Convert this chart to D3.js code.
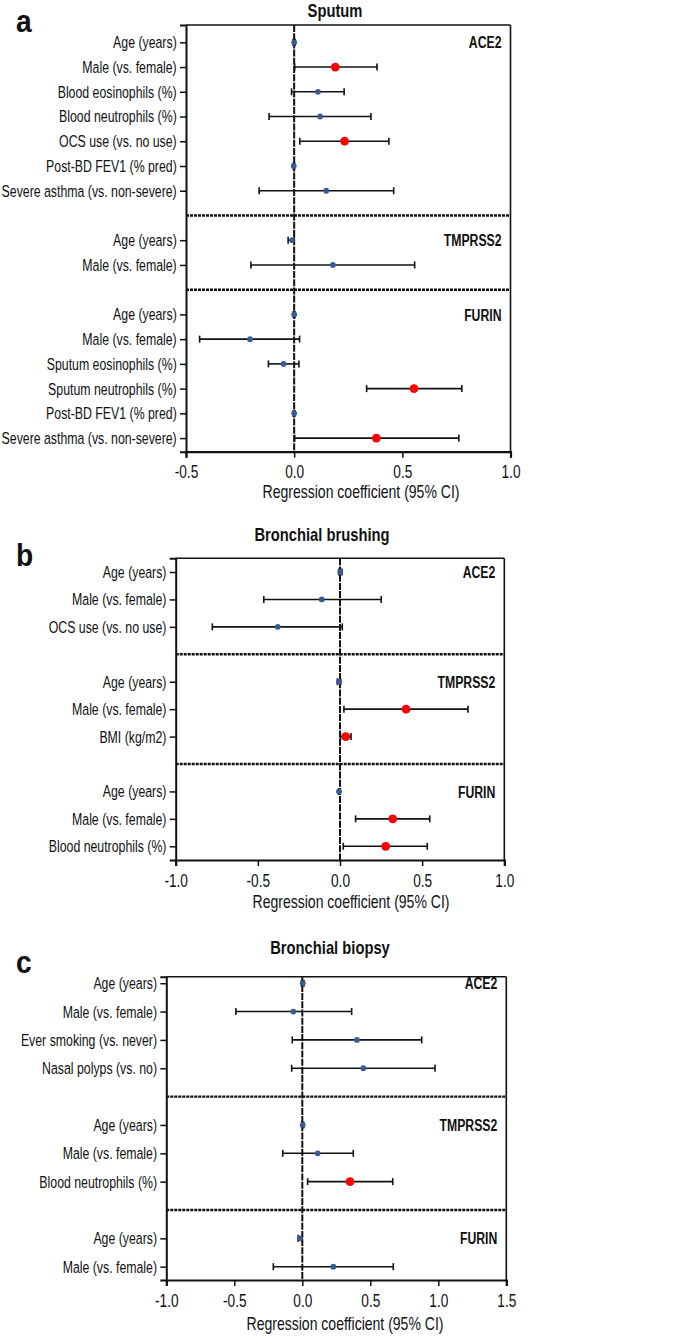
<!DOCTYPE html>
<html>
<head>
<meta charset="utf-8">
<script src="https://cdn.jsdelivr.net/npm/d3@7"></script>
<style>
body { margin: 0; background: #fff; }
text { font-family: "Liberation Sans", Arial, sans-serif; fill: #111; }
</style>
</head>
<body>
<div id="chart"></div>
<script>
// a - Sputum
const sputumGenes = ["ACE2", "TMPRSS2", "FURIN"]
const sputumVars = [
    ["Age (years)", "Male (vs. female)", "Blood eosinophils (%)", "Blood neutrophils (%)", "OCS use (vs. no use)", "Post-BD FEV1 (% pred)", "Severe asthma (vs. non-severe)"],
    ["Age (years)", "Male (vs. female)"],
    ["Age (years)", "Male (vs. female)", "Sputum eosinophils (%)", "Sputum neutrophils (%)", "Post-BD FEV1 (% pred)", "Severe asthma (vs. non-severe)"]
]
const sputumCoef = [[0.0, 0.19, 0.11, 0.12, 0.233, -0.002, 0.148], [-0.009, 0.179], [0.0, -0.204, -0.049, 0.554, 0.0, 0.38]]
const sputumLow = [[-0.005, 0.002, -0.012, -0.116, 0.026, -0.005, -0.162], [-0.028, -0.2], [-0.004, -0.437, -0.119, 0.335, -0.004, 0.002]]
const sputumHigh = [[0.005, 0.383, 0.231, 0.355, 0.438, 0.002, 0.46], [0.0, 0.557], [0.004, 0.025, 0.022, 0.775, 0.003, 0.761]]
const sputumSig = [[0, 1, 0, 0, 1, 0, 0], [0, 0], [0, 0, 0, 1, 0, 1]]
const sputumTicks = [-0.5, 0, 0.5, 1.0]

// b - Bronchial brushing
const brushingGenes = ["ACE2", "TMPRSS2", "FURIN"]
const brushingVars = [
    ["Age (years)", "Male (vs. female)", "OCS use (vs. no use)"],
    ["Age (years)", "Male (vs. female)", "BMI (kg/m2)"],
    ["Age (years)", "Male (vs. female)", "Blood neutrophils (%)"]
]
const brushingCoef = [[0.002, -0.111, -0.379], [-0.006, 0.402, 0.035], [-0.006, 0.321, 0.278]]
const brushingLow = [[-0.008, -0.464, -0.777], [-0.016, 0.024, 0.003], [-0.008, 0.095, 0.020]]
const brushingHigh = [[0.012, 0.251, 0.014], [0.004, 0.779, 0.067], [-0.004, 0.546, 0.531]]
const brushingSig = [[0, 0, 0], [0, 1, 1], [0, 1, 1]]
const brushingTicks = [-1.0, -0.5, 0, 0.5, 1.0]

// c - Bronchial biopsy
const biopsyGenes = ["ACE2", "TMPRSS2", "FURIN"]
const biopsyVars = [
    ["Age (years)", "Male (vs. female)", "Ever smoking (vs. never)", "Nasal polyps (vs. no)"],
    ["Age (years)", "Male (vs. female)", "Blood neutrophils (%)"],
    ["Age (years)", "Male (vs. female)"]
]
const biopsyCoef = [[0.003, -0.066, 0.402, 0.449], [0.003, 0.113, 0.351], [-0.017, 0.228]]
const biopsyLow = [[-0.006, -0.488, -0.074, -0.078], [-0.004, -0.144, 0.039], [-0.03, -0.213]]
const biopsyHigh = [[0.012, 0.363, 0.878, 0.976], [0.01, 0.375, 0.665], [-0.004, 0.669]]
const biopsySig = [[0, 0, 0, 0], [0, 0, 1], [0, 0]]
const biopsyTicks = [-1.0, -0.5, 0, 0.5, 1.0, 1.5]

const width = 685
const height = 1336
const blue = "#3a5a92"
const red = "#ff0000"
// la fuente original es condensada: comprimimos el texto en horizontal
const squeeze = 0.76
const squeezeRows = 0.725

const svg = d3.select("#chart")
    .append("svg")
    .attr("width", width)
    .attr("height", height)

function label(g, x, y, s) {
    return g.append("text").attr("transform", `translate(${x},${y}) scale(${s},1)`)
}

function drawPanel(p) {
    const g = svg.append("g")
    const x = d3.scaleLinear().domain(p.domain).range([p.left, p.right])

    // filas: grupos separados por un hueco con línea discontinua
    const rows = []
    const seps = []
    let k = 0
    p.vars.forEach((vs, gi) => {
        if (gi > 0) { seps.push(k); k++ }
        vs.forEach((v, i) => {
            rows.push({ gene: p.genes[gi], first: i === 0, label: v, coef: p.coef[gi][i],
                lo: p.low[gi][i], hi: p.high[gi][i], sig: p.sig[gi][i], k: k })
            k++
        })
    })
    const y = d3.scaleLinear().domain([-p.padTop, k - 1 + p.padBottom]).range([p.top, p.bottom])

    // marco superior y derecho
    g.append("line").attr("x1", p.left).attr("x2", p.right).attr("y1", p.top).attr("y2", p.top)
        .attr("stroke", "#111").attr("stroke-width", 1.6)
    g.append("line").attr("x1", p.right).attr("x2", p.right).attr("y1", p.top).attr("y2", p.bottom)
        .attr("stroke", "#111").attr("stroke-width", 1.6)

    // separadores
    g.selectAll(".sep").data(seps).enter().append("line")
        .attr("x1", p.left).attr("x2", p.right)
        .attr("y1", d => y(d)).attr("y2", d => y(d))
        .attr("stroke", "#111").attr("stroke-width", 2.4).attr("stroke-dasharray", "3,1")

    // línea del cero
    g.append("line").attr("x1", x(0)).attr("x2", x(0)).attr("y1", p.top).attr("y2", p.bottom)
        .attr("stroke", "#111").attr("stroke-width", 2).attr("stroke-dasharray", "7,1.2")

    // ejes
    const yAxis = d3.axisLeft(y).tickValues(rows.map(r => r.k))
        .tickFormat((d, i) => rows[i].label).tickSizeOuter(0).tickSize(6).tickPadding(6.8)
    const yg = g.append("g").attr("transform", `translate(${p.left},0)`).call(yAxis)
    yg.select(".domain").attr("stroke", "#111").attr("stroke-width", 2)
    yg.selectAll(".tick line").attr("stroke", "#111").attr("stroke-width", 1.5)
    yg.selectAll(".tick text").attr("font-size", 17).attr("fill", "#111")
        .attr("transform", `scale(${squeezeRows},1)`)

    const xAxis = d3.axisBottom(x).tickValues(p.ticks).tickFormat(d => d.toFixed(1))
        .tickSizeOuter(0).tickSize(6).tickPadding(8)
    const xg = g.append("g").attr("transform", `translate(0,${p.bottom})`).call(xAxis)
    xg.select(".domain").attr("stroke", "#111").attr("stroke-width", 2.2)
    xg.selectAll(".tick line").attr("stroke", "#111").attr("stroke-width", 1.5)
    xg.selectAll(".tick text").attr("font-size", 18).attr("fill", "#111")
        .attr("transform", `scale(${squeeze},1)`)

    // barras de error
    const bars = g.selectAll(".err").data(rows).enter().append("g")
    bars.append("line").attr("x1", d => x(d.lo)).attr("x2", d => x(d.hi))
        .attr("y1", d => y(d.k)).attr("y2", d => y(d.k))
        .attr("stroke", "#111").attr("stroke-width", 1.6)
    bars.append("line").attr("x1", d => x(d.lo)).attr("x2", d => x(d.lo))
        .attr("y1", d => y(d.k) - 3.5).attr("y2", d => y(d.k) + 3.5)
        .attr("stroke", "#111").attr("stroke-width", 1.6)
    bars.append("line").attr("x1", d => x(d.hi)).attr("x2", d => x(d.hi))
        .attr("y1", d => y(d.k) - 3.5).attr("y2", d => y(d.k) + 3.5)
        .attr("stroke", "#111").attr("stroke-width", 1.6)

    // puntos
    g.selectAll(".pt").data(rows).enter().append("circle")
        .attr("cx", d => x(d.coef)).attr("cy", d => y(d.k))
        .attr("r", d => d.sig ? 4.4 : 2.9)
        .attr("fill", d => d.sig ? red : blue)

    // nombre del gen
    rows.filter(r => r.first).forEach(r => {
        label(g, p.right - 9, y(r.k), 0.72).attr("dy", "0.36em")
            .attr("text-anchor", "end").attr("font-weight", "bold").attr("font-size", 17)
            .text(r.gene)
    })

    // títulos
    label(g, p.titleX, p.titleY, 0.82).attr("text-anchor", "middle")
        .attr("font-weight", "bold").attr("font-size", 18).text(p.title)
    label(g, 16, p.letterY, 0.88)
        .attr("font-weight", "bold").attr("font-size", 32).text(p.letter)
    label(g, p.xTitleX, p.xTitleY, 0.78).attr("text-anchor", "middle")
        .attr("font-size", 18).text("Regression coefficient (95% CI)")
}

drawPanel({
    genes: sputumGenes, vars: sputumVars, coef: sputumCoef, low: sputumLow, high: sputumHigh, sig: sputumSig,
    ticks: sputumTicks, domain: [-0.5, 1.0],
    left: 186, right: 510.5, top: 25, bottom: 451.7, padTop: 0.7, padBottom: 0.55,
    title: "Sputum", titleX: 335, titleY: 17, letter: "a", letterY: 32, xTitleX: 361, xTitleY: 498
})
drawPanel({
    genes: brushingGenes, vars: brushingVars, coef: brushingCoef, low: brushingLow, high: brushingHigh, sig: brushingSig,
    ticks: brushingTicks, domain: [-1.0, 1.0],
    left: 175.7, right: 504.3, top: 558.3, bottom: 860, padTop: 0.5, padBottom: 0.5,
    title: "Bronchial brushing", titleX: 322, titleY: 541, letter: "b", letterY: 566, xTitleX: 351, xTitleY: 908
})
drawPanel({
    genes: biopsyGenes, vars: biopsyVars, coef: biopsyCoef, low: biopsyLow, high: biopsyHigh, sig: biopsySig,
    ticks: biopsyTicks, domain: [-1.0, 1.5],
    left: 166.3, right: 506.3, top: 976.7, bottom: 1280, padTop: 0.23, padBottom: 0.47,
    title: "Bronchial biopsy", titleX: 330, titleY: 954, letter: "c", letterY: 973, xTitleX: 345, xTitleY: 1330
})
</script>
</body>
</html>
